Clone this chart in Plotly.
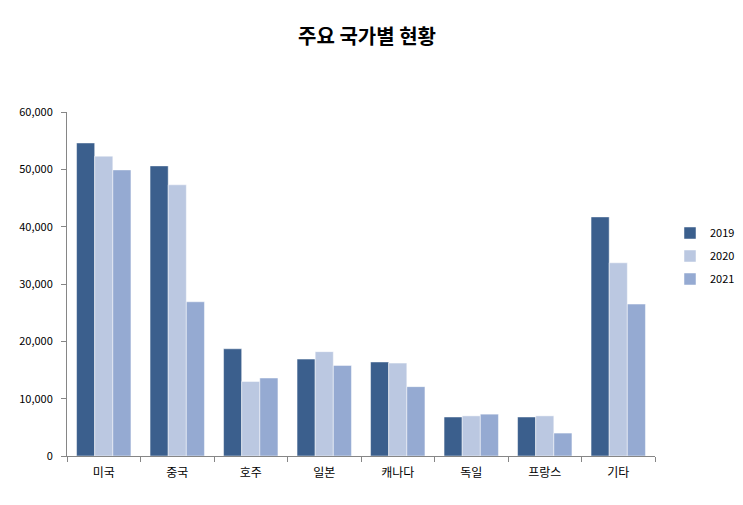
import plotly.graph_objects as go

categories = ["미국", "중국", "호주", "일본", "캐나다", "독일", "프랑스", "기타"]
series_names = ["2019", "2020", "2021"]
values_2019 = [54600, 50600, 18700, 16900, 16400, 6800, 6800, 41700]
values_2020 = [52300, 47300, 13000, 18200, 16200, 7000, 7000, 33700]
values_2021 = [49900, 26900, 13600, 15800, 12100, 7300, 4000, 26500]
colors = ["#3B5F8D", "#BBC8E1", "#95AAD2"]

font_family = "Noto Sans CJK KR, Noto Sans, sans-serif"

fig = go.Figure()
for name, vals, col in zip(series_names, [values_2019, values_2020, values_2021], colors):
    fig.add_trace(go.Bar(
        x=categories, y=vals, name=name, legendgroup=name,
        marker=dict(color=col, line=dict(color="rgba(255,255,255,0.6)", width=0.8)),
    ))

fig.update_layout(
    width=743, height=505,
    margin=dict(l=67, r=88, t=112, b=49, autoexpand=False),
    paper_bgcolor="white", plot_bgcolor="white",
    barmode="group", bargap=0.26, bargroupgap=0,
    font=dict(family=font_family, size=11, color="#000000"),
    title=dict(text="<b>주요 국가별 현황</b>", x=0.494, xanchor="center",
               y=1 - 37 / 505, yanchor="middle", xref="container", yref="container",
               font=dict(size=20, color="#000000", family=font_family)),
    legend=dict(xref="container", yref="container", x=670 / 743, y=1 - 256 / 505,
                xanchor="left", yanchor="middle", traceorder="grouped",
                font=dict(size=11), tracegroupgap=4, itemwidth=30,
                bgcolor="rgba(0,0,0,0)"),
    showlegend=True,
)
fig.update_yaxes(range=[0, 60000], tickvals=[0, 10000, 20000, 30000, 40000, 50000, 60000],
                 tickformat=",", showgrid=False, zeroline=False,
                 showline=True, linecolor="#868686", linewidth=1,
                 ticks="outside", ticklen=5, tickcolor="#868686",
                 ticklabelstandoff=6,
                 tickfont=dict(size=11, color="#000000"))
fig.update_xaxes(showgrid=False, showline=True, linecolor="#868686", linewidth=1,
                 ticks="outside", ticklen=5, tickcolor="#868686", tickson="boundaries",
                 ticklabelstandoff=6,
                 tickfont=dict(size=12, color="#000000"))

fig.write_html("out.html")
